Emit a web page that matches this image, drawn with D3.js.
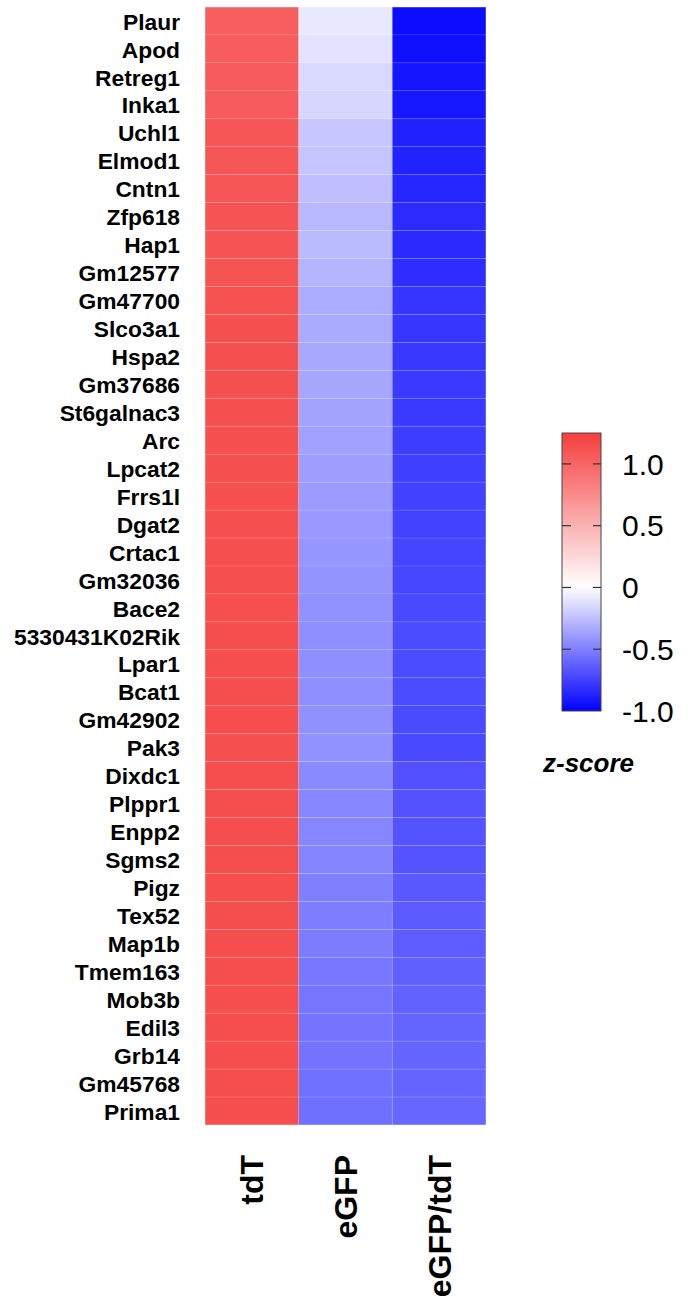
<!DOCTYPE html>
<html>
<head>
<meta charset="utf-8">
<script src="https://cdn.jsdelivr.net/npm/d3@7"></script>
<style>
  html, body { margin: 0; padding: 0; background: #ffffff; }
  svg { display: block; }
</style>
</head>
<body>
<svg id="chart" width="693" height="1301"></svg>
<script>
// Genes (rows, top to bottom)
const genes = [
  "Plaur", "Apod", "Retreg1", "Inka1", "Uchl1", "Elmod1", "Cntn1", "Zfp618",
  "Hap1", "Gm12577", "Gm47700", "Slco3a1", "Hspa2", "Gm37686", "St6galnac3",
  "Arc", "Lpcat2", "Frrs1l", "Dgat2", "Crtac1", "Gm32036", "Bace2",
  "5330431K02Rik", "Lpar1", "Bcat1", "Gm42902", "Pak3", "Dixdc1", "Plppr1",
  "Enpp2", "Sgms2", "Pigz", "Tex52", "Map1b", "Tmem163", "Mob3b", "Edil3",
  "Grb14", "Gm45768", "Prima1"
];

// Samples (columns)
const samples = ["tdT", "eGFP", "eGFP/tdT"];

// z-scores per sample, one entry per gene
const tdT = [
  1.042, 1.050, 1.067, 1.070, 1.092, 1.095, 1.101, 1.110, 1.107, 1.113,
  1.123, 1.124, 1.126, 1.128, 1.129, 1.132, 1.134, 1.136, 1.138, 1.140,
  1.141, 1.143, 1.145, 1.145, 1.145, 1.144, 1.143, 1.147, 1.148, 1.149,
  1.150, 1.151, 1.152, 1.153, 1.153, 1.154, 1.154, 1.154, 1.154, 1.155
];
const eGFP = [
  -0.090, -0.110, -0.150, -0.160, -0.220, -0.230, -0.250, -0.280, -0.270, -0.290,
  -0.330, -0.335, -0.340, -0.350, -0.355, -0.370, -0.380, -0.390, -0.400, -0.410,
  -0.420, -0.430, -0.440, -0.440, -0.440, -0.435, -0.430, -0.460, -0.470, -0.475,
  -0.480, -0.500, -0.510, -0.515, -0.530, -0.540, -0.545, -0.550, -0.555, -0.560
];
const eGFPtdT = [
  -0.952, -0.940, -0.917, -0.910, -0.872, -0.865, -0.851, -0.830, -0.837, -0.823,
  -0.793, -0.789, -0.786, -0.778, -0.774, -0.762, -0.754, -0.746, -0.738, -0.730,
  -0.721, -0.713, -0.705, -0.705, -0.705, -0.709, -0.713, -0.687, -0.678, -0.674,
  -0.670, -0.651, -0.642, -0.638, -0.623, -0.614, -0.609, -0.604, -0.599, -0.595
];

// Colour bar ticks
const legendTicks = [1.0, 0.5, 0, -0.5, -1.0];
const legendTickLabels = ["1.0", "0.5", "0", "-0.5", "-1.0"];
const legendDomain = [-1.0, 1.25];

const seriesBySample = { "tdT": tdT, "eGFP": eGFP, "eGFP/tdT": eGFPtdT };
const cells = [];
genes.forEach((g, i) => {
  samples.forEach(s => cells.push({ gene: g, sample: s, value: seriesBySample[s][i] }));
});

const svg = d3.select("#chart");
const font = "'Liberation Sans', Arial, Helvetica, sans-serif";

// Heatmap geometry
const heat = { left: 205, right: 486, top: 7, bottom: 1125 };

const x = d3.scaleBand().domain(samples).range([heat.left, heat.right]).padding(0);
const y = d3.scaleBand().domain(genes).range([heat.top, heat.bottom]).padding(0);

const color = d3.scaleLinear()
  .domain([-1, 0, 1.25])
  .range(["#0000ff", "#ffffff", "#f53e3e"])
  .interpolate(d3.interpolateRgb)
  .clamp(true);

// Cells
svg.append("g")
  .selectAll("rect")
  .data(cells)
  .join("rect")
  .attr("x", d => x(d.sample))
  .attr("y", d => y(d.gene))
  .attr("width", x.bandwidth())
  .attr("height", y.bandwidth())
  .attr("fill", d => color(d.value))
  .attr("stroke", "rgba(255,255,255,0.12)")
  .attr("stroke-width", 0.8);

// Light outline around the heatmap
svg.append("rect")
  .attr("x", heat.left)
  .attr("y", heat.top)
  .attr("width", heat.right - heat.left)
  .attr("height", heat.bottom - heat.top)
  .attr("fill", "none")
  .attr("stroke", "rgba(255,255,255,0.35)")
  .attr("stroke-width", 1);

// Row labels
const yAxis = d3.axisLeft(y).tickSize(0).tickPadding(0);
const gy = svg.append("g")
  .attr("transform", `translate(${heat.left - 25},0)`)
  .call(yAxis);
gy.select(".domain").remove();
gy.selectAll("text")
  .attr("font-family", font)
  .attr("font-weight", "bold")
  .attr("font-size", 22.8)
  .attr("fill", "#000")
  .attr("dy", "0.38em");

// Column labels (rotated)
const gx = svg.append("g");
gx.selectAll("text")
  .data(samples)
  .join("text")
  .attr("transform", d => `translate(${x(d) + x.bandwidth() / 2},1155) rotate(-90)`)
  .attr("text-anchor", "end")
  .attr("dy", "0.36em")
  .attr("font-family", font)
  .attr("font-weight", "bold")
  .attr("font-size", 32)
  .attr("fill", "#000")
  .text(d => d);

// Colour bar legend
const leg = { x: 562, w: 39, top: 433, bottom: 711 };
const ly = d3.scaleLinear().domain(legendDomain).range([leg.bottom, leg.top]);

const defs = svg.append("defs");
const grad = defs.append("linearGradient")
  .attr("id", "zgrad")
  .attr("x1", "0").attr("y1", "1").attr("x2", "0").attr("y2", "0");
const stopVals = d3.range(0, 21).map(i => legendDomain[0] + (legendDomain[1] - legendDomain[0]) * i / 20);
grad.selectAll("stop")
  .data(stopVals)
  .join("stop")
  .attr("offset", d => (d - legendDomain[0]) / (legendDomain[1] - legendDomain[0]))
  .attr("stop-color", d => color(d));

svg.append("rect")
  .attr("x", leg.x)
  .attr("y", leg.top)
  .attr("width", leg.w)
  .attr("height", leg.bottom - leg.top)
  .attr("fill", "url(#zgrad)")
  .attr("stroke", "#444")
  .attr("stroke-width", 1);

// Inner tick marks on both sides of the bar
const tickG = svg.append("g");
tickG.selectAll("line.l")
  .data(legendTicks.filter(t => t > legendDomain[0]))
  .join("line")
  .attr("class", "l")
  .attr("x1", leg.x).attr("x2", leg.x + 9)
  .attr("y1", d => ly(d)).attr("y2", d => ly(d))
  .attr("stroke", "#333").attr("stroke-width", 1.2);
tickG.selectAll("line.r")
  .data(legendTicks.filter(t => t > legendDomain[0]))
  .join("line")
  .attr("class", "r")
  .attr("x1", leg.x + leg.w - 8).attr("x2", leg.x + leg.w)
  .attr("y1", d => ly(d)).attr("y2", d => ly(d))
  .attr("stroke", "#333").attr("stroke-width", 1.2);

svg.append("g")
  .selectAll("text")
  .data(legendTicks)
  .join("text")
  .attr("x", 622)
  .attr("y", d => ly(d))
  .attr("dy", "0.36em")
  .attr("font-family", font)
  .attr("font-size", 30)
  .attr("fill", "#000")
  .text((d, i) => legendTickLabels[i]);

svg.append("text")
  .attr("x", 543)
  .attr("y", 772)
  .attr("font-family", font)
  .attr("font-weight", "bold")
  .attr("font-style", "italic")
  .attr("font-size", 26)
  .attr("fill", "#000")
  .text("z-score");
</script>
</body>
</html>
